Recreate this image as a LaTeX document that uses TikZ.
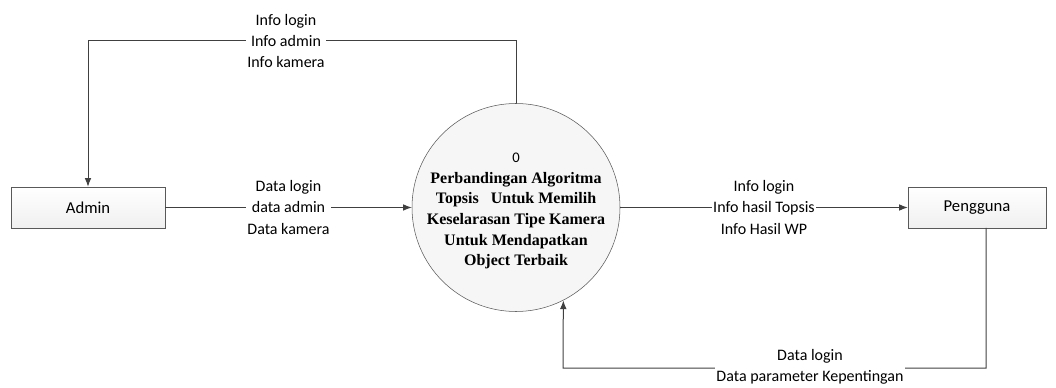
\documentclass[tikz,border=0pt]{standalone}
\usepackage{fontspec}
\setmainfont{Carlito}
\newfontfamily\timesbf{Liberation Serif}
\newfontfamily\calibri{Carlito}
\usetikzlibrary{arrows.meta,shadows}

\begin{document}
\begin{tikzpicture}[x=0.75pt,y=-0.75pt,
  entitas/.style={draw=gray!70!black,top color=white,bottom color=gray!12,
    drop shadow={shadow xshift=1pt,shadow yshift=-1pt,opacity=0.25},
    minimum height=30.75pt,font=\fontsize{12.5}{14}\selectfont},
  proses/.style={circle,draw=gray!70!black,fill=gray!7,minimum size=156pt,
    inner sep=0pt},
  judul/.style={align=center,
    font=\timesbf\bfseries\fontsize{12}{15.5}\selectfont},
  alir/.style={draw=black!75,line width=0.75pt,-{Latex[length=6.5pt,width=5pt]}},
  ket/.style={fill=white,inner sep=1pt,align=center,
    font=\fontsize{12}{15.8}\selectfont}
]
\useasboundingbox (0,0) rectangle (1056,388);

% Entitas dan proses
\node[entitas,minimum width=115.5pt] (admin) at (88,207.5) {Admin};
\node[entitas,minimum width=103.5pt] (pengguna) at (977,207.5) {Pengguna};

\node[proses] (p0) at (516,207.5) {};
\node[judul] (p0teks) at (516,211)
{{\calibri\mdseries\fontsize{11}{15}\selectfont 0}\\
Perbandingan Algoritma\\
Topsis\ \ \ Untuk Memilih\\
Keselarasan Tipe Kamera\\
Untuk Mendapatkan\\
Object Terbaik};

% Alur atas
\coordinate (t1) at (516,41);
\coordinate (t2) at (88,41);
\draw[alir] (p0.north) -- (t1) -- (t2) -- (admin.north);
\node[ket] at (286,41)
{Info login\\Info admin\\Info kamera};

% Alur tengah
\draw[alir] (admin) -- (p0)
node[midway,ket] {Data login\\data admin\\Data kamera};

\draw[alir] (p0) -- (pengguna)
node[midway,ket] {Info login\\Info hasil Topsis\\Info Hasil WP};

% Alur bawah
\coordinate (b0) at (986,228);
\coordinate (b1) at (986,368);
\coordinate (b2) at (563,368);
\draw[alir] (b0) -- (b1) -- (b2) -- (p0.-63);
\node[ket] at (810,367)
{Data login\\Data parameter Kepentingan};

\end{tikzpicture}
\end{document}
